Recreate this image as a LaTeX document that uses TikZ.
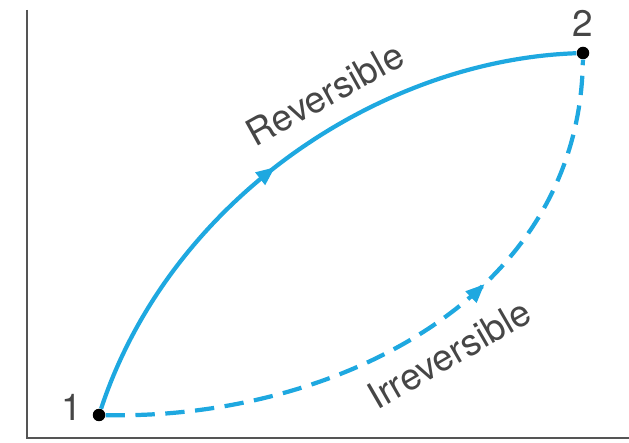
\documentclass[tikz,border=0pt]{standalone}
\usepackage{fontspec}
\setmainfont{TeX Gyre Heros}
\usetikzlibrary{arrows.meta,decorations.markings,positioning}

\definecolor{pathblue}{RGB}{30,168,224}
\definecolor{axisgray}{RGB}{85,85,85}
\definecolor{textgray}{RGB}{70,70,70}

\tikzset{
  dot/.style={circle,fill=black,inner sep=0pt,minimum size=0.25cm},
  lbl/.style={text=textgray,font=\fontsize{21}{25}\selectfont,inner sep=0pt},
  process/.style={pathblue,line width=2.4pt},
  midarrow/.style={postaction={decorate},decoration={markings,
      mark=at position #1 with {\arrow{Triangle[length=0.38cm,width=0.3cm]}}}}
}

\begin{document}
\begin{tikzpicture}

    \useasboundingbox (0,0) rectangle (12.58,8.86);
    % axes
    \coordinate (ytop) at (0.54,8.66);
    \coordinate (xend) at (12.58,0.1);
    \draw[axisgray,line width=1.1pt] (ytop) |- (xend);

    % states
    \node[dot] (p1) at (1.98,0.56) {};
    \node[dot] (p2) at (11.66,7.8) {};
    \node[lbl] (l1) at (1.44,0.72) {1};
    \node[lbl, above=0.2cm of p2] (l2) {2};

    % reversible path
    \draw[process, midarrow=0.48]
    (p1) .. controls (3.4,4.86) and (7.6,7.66) .. (p2);
    \node[lbl, rotate=29] (rev) at (6.5,6.98) {Reversible};

    % irreversible path
    \draw[process, dash pattern=on 11pt off 6pt, midarrow=0.62]
    (p1) .. controls (6.6,0.46) and (11.6,2.86) .. (p2);
    \node[lbl, rotate=30] (irr) at (8.98,1.78) {Irreversible};

\end{tikzpicture}
\end{document}
